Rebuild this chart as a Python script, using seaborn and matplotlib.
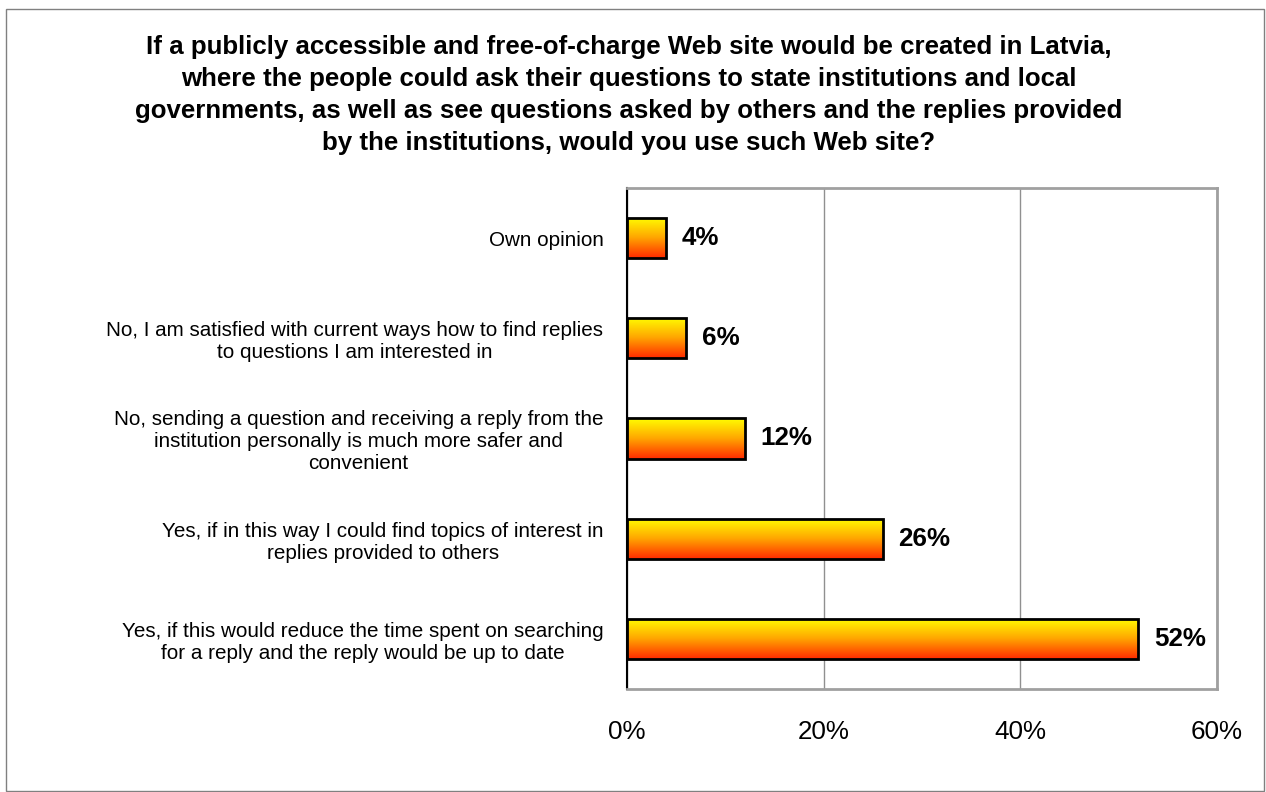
import numpy as np
import pandas as pd
import seaborn as sns
import matplotlib.pyplot as plt
from matplotlib.colors import LinearSegmentedColormap

answers = [
    'Own opinion',
    'No, I am satisfied with current ways how to find replies\nto questions I am interested in',
    'No, sending a question and receiving a reply from the\ninstitution personally is much more safer and\nconvenient',
    'Yes, if in this way I could find topics of interest in\nreplies provided to others',
    'Yes, if this would reduce the time spent on searching\nfor a reply and the reply would be up to date',
]
shares = [4, 6, 12, 26, 52]
ticks = [0, 20, 40, 60]
title = ('If a publicly accessible and free-of-charge Web site would be created in Latvia,\n'
         'where the people could ask their questions to state institutions and local\n'
         'governments, as well as see questions asked by others and the replies provided\n'
         'by the institutions, would you use such Web site?')

sns.set_theme(style='white')
plt.rcParams['font.family'] = ['Liberation Sans', 'DejaVu Sans']

df = pd.DataFrame({'answer': answers, 'share': shares})

fig = plt.figure(figsize=(12.66, 7.92), dpi=100)
ax = fig.add_axes([627 / 1266, 1 - 689 / 792, 590 / 1266, 501 / 792])
sns.barplot(data=df, x='share', y='answer', ax=ax, width=0.4,
            color='white', edgecolor='black', linewidth=2, zorder=3)

# yellow (top) to red (bottom) gradient inside each bar
cmap = LinearSegmentedColormap.from_list('yr', ['#ffff00', '#ffa500', '#ff2a00'])
grad = np.linspace(1, 0, 256).reshape(-1, 1)
for bar in list(ax.patches):
    bar.set_facecolor('none')
    x0, y0 = bar.get_x(), bar.get_y()
    w, h = bar.get_width(), bar.get_height()
    im = ax.imshow(grad, cmap=cmap, aspect='auto', zorder=2.5,
                   extent=[x0, x0 + w, y0 + h, y0], origin='lower')
    im.set_clip_path(bar)
    ax.text(x0 + w + 1.6, y0 + h / 2, f'{w:.0f}%', va='center', ha='left',
            fontsize=18.7, fontweight='bold', color='black')

ax.set_xlim(0, 60)
ax.set_ylim(4.5, -0.5)
ax.set_aspect('auto')
ax.set_xticks(ticks)
ax.set_xticklabels([f'{t}%' for t in ticks], fontsize=18.7, color='black')
ax.tick_params(axis='x', pad=22, length=0)
ax.tick_params(axis='y', pad=17, length=0)
ax.set_yticklabels(answers, fontsize=14.85, color='black',
                   multialignment='center', linespacing=1.2)
ax.set_xlabel('')
ax.set_ylabel('')
ax.xaxis.grid(True, color='#909090', linewidth=1, zorder=0)
ax.set_axisbelow(True)
for side in ['top', 'right', 'bottom']:
    ax.spines[side].set_color('#a0a0a0')
    ax.spines[side].set_linewidth(2)
ax.spines['left'].set_color('black')
ax.spines['left'].set_linewidth(1.5)

fig.text(629 / 1266, 1 - 95 / 792, title, ha='center', va='center', fontsize=18.6,
         fontweight='bold', linespacing=1.42, color='black')

# thin frame round the whole picture
fig.patches.append(plt.Rectangle((6 / 1266, 1 / 792), 1258 / 1266, 782 / 792,
                                 transform=fig.transFigure, fill=False,
                                 edgecolor='#808080', linewidth=1))

plt.savefig('out.png', dpi=100)
